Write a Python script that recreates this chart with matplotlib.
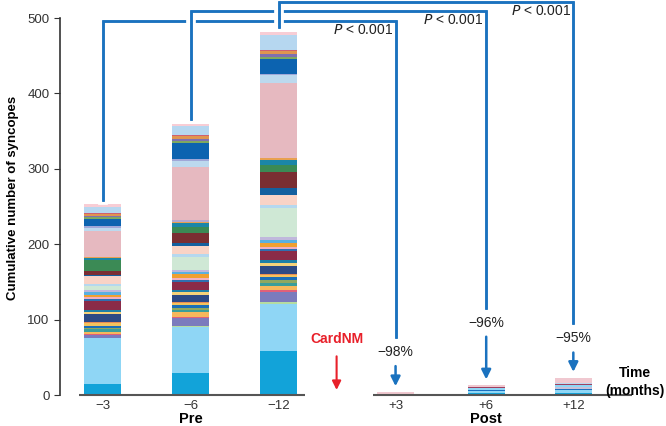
import matplotlib
matplotlib.use('Agg')
import matplotlib.pyplot as plt
import matplotlib.patheffects as pe
import numpy as np

plt.rcParams['font.family'] = ['Liberation Sans', 'DejaVu Sans']

# bar labels / groups
tick_labels = ['\u22123', '\u22126', '\u221212', '+3', '+6', '+12']
group_labels = ['Pre', 'Post']
x_pos = [0, 1, 2, 3.33, 4.36, 5.35]

# patients stacked bottom -> top in the Pre bars (cumulative counts per patient)
pre_colors = ['#12a3d9', '#8fd6f5', '#b5dca0', '#7b7bbd', '#e0607a', '#f6b85c',
              '#3a9e9a', '#8fa860', '#1a6fb8', '#f3c35e', '#e98f55', '#2d4a85',
              '#f5d27a', '#1d7fa6', '#8a2b48', '#2f6fb0', '#f0b0c0', '#f0a030',
              '#5ab0e0', '#c0b8dc', '#cfe8d5', '#b5d8ef', '#f9d3c6', '#14609f',
              '#7a2e32', '#3b8a55', '#1b86a8', '#e8a050', '#b8a8d0', '#e6b9c0',
              '#bcd9ee', '#a0a8d8', '#0c63b0', '#7fa860', '#8070b0', '#e09550',
              '#d06070', '#b6d7f0', '#f8cdd5']
pre_3 = [15, 60, 1, 3, 2, 3, 3, 2, 3, 3, 2, 10, 3, 3, 12, 3, 2, 3, 3, 3,
         5, 3, 11, 1, 6, 14, 3, 1, 0, 35, 4, 2, 10, 2, 2, 2, 1, 9, 3]
pre_6 = [29, 61, 1, 11, 2, 6, 3, 3, 3, 3, 2, 9, 3, 3, 11, 3, 2, 5, 3, 3,
         17, 4, 11, 3, 14, 8, 5, 2, 2, 70, 8, 3, 21, 3, 3, 3, 2, 12, 3]
pre_12 = [59, 62, 2, 14, 2, 6, 4, 3, 4, 3, 2, 10, 4, 4, 12, 3, 2, 6, 4, 4,
          38, 4, 13, 9, 22, 9, 7, 2, 1, 99, 10, 2, 20, 3, 3, 4, 2, 20, 4]

# post bars
post_colors = ['#12a3d9', '#8fd6f5', '#1a70c0', '#c8c0d8', '#8fd6f5', '#a04060',
               '#bcd9ee', '#f0c8d0']
post_3 = [0, 0, 0, 1.5, 0, 0, 0, 2.5]
post_6 = [3, 2, 2, 0, 2, 1, 0, 3]
post_12 = [3, 3, 2, 2, 3, 1.5, 2, 6.5]

reductions = ['\u221298%', '\u221296%', '\u221295%']
p_text = '$P$ < 0.001'

blue = '#1a72bf'

fig = plt.figure(figsize=(6.66, 4.26), dpi=100)
ax = fig.add_axes([60 / 666, 31 / 426, 606 / 666, 395 / 426])
ax.set_xlim(-0.483, 6.403)
ax.set_ylim(0, 524)

w = 0.42
for xp, vals in zip(x_pos[:3], [pre_3, pre_6, pre_12]):
    ax.bar([xp] * len(vals), vals, width=w, bottom=np.cumsum([0] + vals[:-1]),
           color=pre_colors, linewidth=0)
for xp, vals in zip(x_pos[3:], [post_3, post_6, post_12]):
    ax.bar([xp] * len(vals), vals, width=w, bottom=np.cumsum([0] + vals[:-1]),
           color=post_colors, linewidth=0)

# axes styling
for s in ['top', 'right', 'bottom']:
    ax.spines[s].set_visible(False)
ax.spines['left'].set_bounds(0, 500)
ax.spines['left'].set_color('#333333')
ax.spines['left'].set_linewidth(1.2)
ax.set_yticks([0, 100, 200, 300, 400, 500])
ax.tick_params(axis='y', length=4, color='#333333', labelsize=9.5, labelcolor='#333333')
ax.set_xticks([])
ax.set_ylabel('Cumulative number of syncopes', fontsize=9.5, fontweight='bold', labelpad=6)

# broken x axis
ax.plot([-0.267, 2.30], [0, 0], color='#555555', lw=1.5, clip_on=False, solid_capstyle='butt')
ax.plot([3.07, 6.02], [0, 0], color='#555555', lw=1.5, clip_on=False, solid_capstyle='butt')

for xp, lab in zip(x_pos, tick_labels):
    ax.text(xp, -14, lab, ha='center', va='center', fontsize=9.5, color='#333333', clip_on=False)
ax.text(x_pos[1], -31.5, group_labels[0], ha='center', va='center', fontsize=10.5,
        fontweight='bold', clip_on=False)
ax.text(x_pos[4], -31.5, group_labels[1], ha='center', va='center', fontsize=10.5,
        fontweight='bold', clip_on=False)
ax.text(6.05, 29, 'Time', ha='center', va='center', fontsize=10, fontweight='bold')
ax.text(6.05, 5, '(months)', ha='center', va='center', fontsize=10, fontweight='bold')

# CardNM arrow
ax.text(2.66, 74, 'CardNM', ha='center', va='center', fontsize=10, fontweight='bold', color='#e8202a')
ax.annotate('', xy=(2.66, 3), xytext=(2.66, 55),
            arrowprops=dict(arrowstyle='-|>', color='#e8202a', lw=1.5, mutation_scale=13))

# brackets pre -> post
totals_pre = [sum(pre_3), sum(pre_6), sum(pre_12)]
totals_post = [sum(post_3), sum(post_6), sum(post_12)]
levels = [496, 509, 522]
text_y = [57, 96, 75]
for i in range(3):
    x0 = x_pos[i]
    x1 = x_pos[i + 3]
    ax.plot([x0, x0, x1, x1], [totals_pre[i] + 6, levels[i], levels[i], text_y[i] + 20],
            color=blue, lw=1.8, clip_on=False, solid_joinstyle='miter',
            path_effects=[pe.withStroke(linewidth=7, foreground='white'), pe.Normal()])
    ax.text(x1, text_y[i], reductions[i], ha='center', va='center', fontsize=10, color='#222222')
    ax.annotate('', xy=(x1, totals_post[i] + 4), xytext=(x1, text_y[i] - 15),
                arrowprops=dict(arrowstyle='-|>', color=blue, lw=1.8, mutation_scale=14))
    ax.text(x1 - 0.03, levels[i] - 12, p_text, ha='right', va='center', fontsize=10, color='#222222')

fig.savefig('out.png', dpi=100)
